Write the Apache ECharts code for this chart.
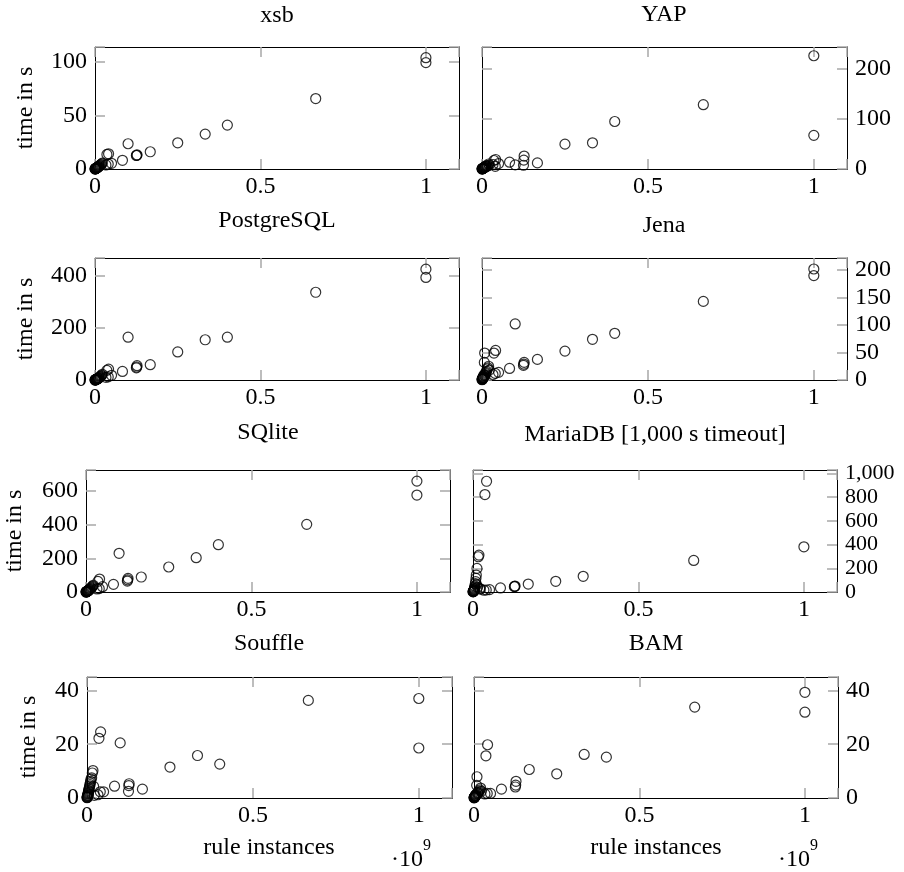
<!DOCTYPE html>
<html><head><meta charset="utf-8">
<script src="https://cdn.jsdelivr.net/npm/echarts@6/dist/echarts.min.js"></script>
<style>html,body{margin:0;padding:0;background:#fff}#c{width:904px;height:872px}</style>
</head><body><div id="c"></div>
<script>
// rule instances (x 10^9), shared by all systems
const ruleInstances = [1.0, 1.0, 0.667, 0.4, 0.333, 0.25, 0.167, 0.127, 0.126, 0.125, 0.1, 0.083, 0.05, 0.041, 0.036, 0.04, 0.033,
  0.022, 0.02, 0.018, 0.016, 0.014, 0.012, 0.011, 0.01, 0.009, 0.008, 0.007, 0.006, 0.005, 0.0045, 0.004, 0.0035, 0.003, 0.0025, 0.002, 0.0015, 0.001, 0.0008, 0.0005, 0.0002];

// time in s per system (null = no result)
const timeXsb = [104, 99.4, 65.8, 41, 32.6, 24.5, 16.1, 13.2, 12.8, 12.6, 23.6, 8.1, 5.3, 14.2, 13.6, 4.6, 3.8,
  5.5, 4.8, 4.2, 3.6, 3.2, 2.8, 2.4, 2.1, 1.8, 1.6, 1.4, 1.2, 1.0, 0.9, 0.8, 0.7, 0.6, 0.5, 0.4, 0.3, 0.2, 0.15, 0.1, 0.05];
const timeYap = [226.5, 67.3, 128.6, 95, 52.4, 49.7, 12.2, 25.9, 17.7, 7.5, 8.2, 13.6, 10.9, 19, 17, 5.4, 9,
  8, 10, 7, 6, 5.5, 6.5, 4.5, 5, 4, 3.5, 3, 2.6, 2.2, 2, 1.8, 1.5, 1.3, 1.1, 0.9, 0.7, 0.5, 0.4, 0.3, 0.1];
const timePostgres = [427, 395, 338, 165, 155, 108, 59, 55, 50, 47, 165, 33, 18, 42, 37, 12, 10,
  22, 18, 15, 13, 11, 9.5, 8, 7, 6, 5, 4.4, 3.8, 3.2, 2.8, 2.4, 2, 1.7, 1.4, 1.1, 0.8, 0.5, 0.4, 0.2, 0.1];
const timeJena = [202, 190, 143, 85, 74, 52.6, 37.5, 32, 29, 26.6, 102, 21, 13.9, 53.8, 49, 12, 10,
  18, 25, 22, 20, 16, 14, 12, 10, 8, 49, 32, 9, 7, 6, 5, 4.5, 4, 3.5, 3, 2.5, 2, 1.5, 1, 0.5];
const timeSqlite = [659, 576, 402, 281, 204, 148.5, 89, 81, 72, 65, 230, 45.5, 31.7, 77, 63, 20, 18,
  40, 35, 30, 26, 22, 19, 16, 14, 12, 10, 8.5, 7, 6, 5, 4.4, 3.8, 3.2, 2.6, 2, 1.5, 1, 0.8, 0.5, 0.2];
const timeMariadb = [381, null, 266, null, 132, 90, 67, 50, 47, 45, null, 34, 20, 933, 821, 17, 15,
  25, 30, 311, 297, 40, 199, 60, 143, 115, 87, 70, 50, 40, 30, 25, 20, 15, 12, 9, 7, 5, 4, 3, 1];
const timeSouffle = [37, 18.6, 36.3, 12.6, 15.8, 11.5, 3.3, 5.3, 4.6, 2.5, 20.5, 4.4, 2.3, 24.6, 22.2, 2.3, 1.2,
  1, 4.3, 10.2, 9.3, 7.5, 7, 6.2, 5.6, 5, 4.4, 3.8, 3.3, 2.8, 2.4, 2, 1.7, 1.4, 1.1, 0.9, 0.7, 0.5, 0.3, 0.2, 0.1];
const timeBam = [39.3, 31.9, 33.8, 15.2, 16.2, 9, 10.6, 6.2, 4.8, 4.1, null, 3.3, 1.7, 19.8, 15.7, 1.7, 1.5,
  2.5, 3.7, 3.0, 2.6, 2.2, 2.0, 1.8, 1.6, 7.9, 4.7, 1.4, 1.2, 1.0, 0.9, 0.8, 0.7, 0.6, 0.5, 0.4, 0.3, 0.25, 0.2, 0.1, 0.05];

const panelTitles = ['xsb', 'YAP', 'PostgreSQL', 'Jena', 'SQlite', 'MariaDB [1,000 s timeout]', 'Souffle', 'BAM'];
const panelTimes = [timeXsb, timeYap, timePostgres, timeJena, timeSqlite, timeMariadb, timeSouffle, timeBam];
const yTickStep = [50, 100, 200, 50, 200, 200, 20, 20];
const yAxisMax = [114, 244, 470, 222, 725, 1028, 45, 45];
const xTickStep = 0.5, xAxisMax = 1.1;
const yAxisTitle = 'time in s';
const xAxisTitle = 'rule instances';

// layout (pixels)
const layout = [
  {left: 95, top: 47, width: 364, height: 122, side: 'left', tx: 277, ty: 16},
  {left: 482, top: 47, width: 365, height: 122, side: 'right', tx: 664, ty: 15},
  {left: 95, top: 258, width: 364, height: 122, side: 'left', tx: 277, ty: 221},
  {left: 482, top: 258, width: 365, height: 122, side: 'right', tx: 664, ty: 226},
  {left: 86, top: 470, width: 364, height: 122, side: 'left', tx: 268, ty: 433},
  {left: 473, top: 470, width: 364, height: 122, side: 'right', tx: 655, ty: 435},
  {left: 87, top: 677, width: 365, height: 121, side: 'left', tx: 269, ty: 644},
  {left: 474, top: 677, width: 364, height: 121, side: 'right', tx: 656, ty: 644}
];
const FONT = '"Liberation Serif", "DejaVu Serif", serif';
const FS = 24;

function isMult(v, step) { const r = v / step; return Math.abs(r - Math.round(r)) < 1e-6; }

const grids = [], xAxes = [], yAxes = [], series = [], graphics = [];
const tickStyle = {show: true, inside: true, length: 10, lineStyle: {color: '#a8a8a8', width: 1.5}};
const lineStyle = {show: true, onZero: false, lineStyle: {color: '#000', width: 1}};

layout.forEach((L, i) => {
  grids.push({left: L.left, top: L.top, width: L.width, height: L.height, containLabel: false});
  const xBase = {type: 'value', gridIndex: i, min: 0, max: xAxisMax, interval: xTickStep,
    splitLine: {show: false}, axisLine: lineStyle, axisTick: tickStyle};
  xAxes.push(Object.assign({}, xBase, {position: 'bottom',
    axisLabel: {show: true, margin: 6, color: '#000', fontFamily: FONT, fontSize: FS,
      showMinLabel: true, showMaxLabel: true, hideOverlap: false,
      formatter: v => isMult(v, xTickStep) ? String(+v.toFixed(2)) : ''}}));
  xAxes.push(Object.assign({}, xBase, {position: 'top', axisLabel: {show: false}}));
  const step = yTickStep[i];
  const yBase = {type: 'value', gridIndex: i, min: 0, max: yAxisMax[i], interval: step,
    splitLine: {show: false}, axisLine: lineStyle, axisTick: tickStyle};
  const other = L.side === 'left' ? 'right' : 'left';
  const dense = (L.height / (yAxisMax[i] / step)) < 26;
  yAxes.push(Object.assign({}, yBase, {position: L.side,
    axisLabel: {show: true, margin: 8, color: '#000', fontFamily: FONT,
      fontSize: dense ? 22 : FS, lineHeight: dense ? 12 : 18,
      showMinLabel: true, showMaxLabel: true, hideOverlap: false,
      formatter: v => isMult(v, step) ? Math.round(v).toLocaleString('en-US') : ''}}));
  yAxes.push(Object.assign({}, yBase, {position: other, axisLabel: {show: false}}));

  const data = [];
  ruleInstances.forEach((x, k) => { const y = panelTimes[i][k]; if (y !== null && y !== undefined) data.push([x, y]); });
  series.push({type: 'scatter', xAxisIndex: 2 * i, yAxisIndex: 2 * i, data: data,
    symbol: 'circle', symbolSize: 10, clip: false, silent: true,
    itemStyle: {color: 'rgba(0,0,0,0)', borderColor: '#000', borderWidth: 1.2},
    emphasis: {disabled: true}, animation: false});

  graphics.push({type: 'text', x: L.tx, y: L.ty,
    style: {text: panelTitles[i], font: FS + 'px ' + FONT, fill: '#000', align: 'center', verticalAlign: 'middle'}});
});

// y axis titles (left column)
[[26, 108], [26, 319], [15, 531], [29, 737]].forEach(p => {
  graphics.push({type: 'text', x: p[0], y: p[1], rotation: Math.PI / 2,
    style: {text: yAxisTitle, font: FS + 'px ' + FONT, fill: '#000', align: 'center', verticalAlign: 'middle'}});
});
// x axis titles and exponent
[[269, 848], [656, 848]].forEach(p => {
  graphics.push({type: 'text', x: p[0], y: p[1],
    style: {text: xAxisTitle, font: FS + 'px ' + FONT, fill: '#000', align: 'center', verticalAlign: 'middle'}});
});
[[391, 860, 423, 846], [778, 860, 810, 846]].forEach(p => {
  graphics.push({type: 'text', x: p[0], y: p[1],
    style: {text: '·10', font: FS + 'px ' + FONT, fill: '#000', align: 'left', verticalAlign: 'middle'}});
  graphics.push({type: 'text', x: p[2], y: p[3],
    style: {text: '9', font: '16px ' + FONT, fill: '#000', align: 'left', verticalAlign: 'middle'}});
});

const chart = echarts.init(document.getElementById('c'), null, {renderer: 'canvas'});
chart.setOption({
  animation: false,
  backgroundColor: '#fff',
  grid: grids, xAxis: xAxes, yAxis: yAxes, series: series, graphic: graphics
});
</script></body></html>
